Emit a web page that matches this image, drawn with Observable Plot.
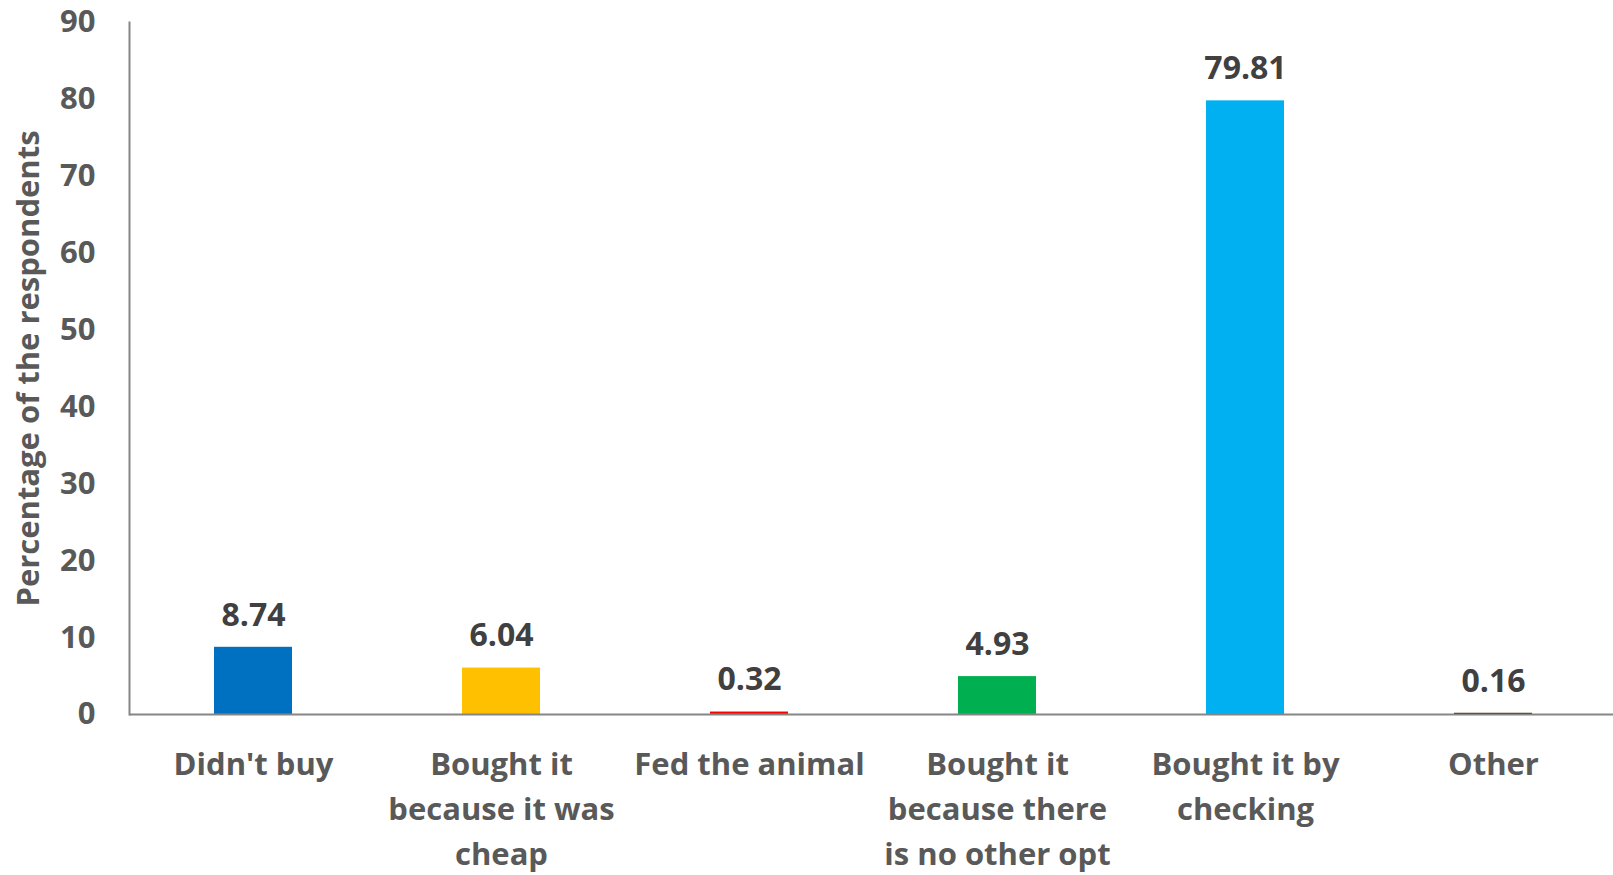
<!DOCTYPE html>
<html><head><meta charset="utf-8">
<script src="https://cdn.jsdelivr.net/npm/d3@7"></script>
<script src="https://cdn.jsdelivr.net/npm/@observablehq/plot@0.6"></script>
<style>body{margin:0;background:#fff}</style>
</head><body><div id="chart"></div>
<script>
const categories = ["Didn't buy", "Bought it because it was cheap", "Fed the animal", "Bought it because there is no other opt", "Bought it by checking", "Other"];
const tickLabels = ["Didn't buy", "Bought it\nbecause it was\ncheap", "Fed the animal", "Bought it\nbecause there\nis no other opt", "Bought it by\nchecking", "Other"];
const values = [8.74, 6.04, 0.32, 4.93, 79.81, 0.16];
const colors = ["#0070C0", "#FFC000", "#FF0000", "#00B050", "#00B0F0", "#3B2300"];
const yTicks = [0, 10, 20, 30, 40, 50, 60, 70, 80, 90];

const data = categories.map((c, i) => ({category: c, value: values[i], color: colors[i], label: values[i].toFixed(2)}));
const labelOf = new Map(categories.map((c, i) => [c, tickLabels[i]]));

const chart = Plot.plot({
  width: 1613,
  height: 875,
  marginLeft: 129,
  marginRight: -4,
  marginTop: 22,
  marginBottom: 161,
  style: {fontFamily: "'Open Sans', sans-serif", fontWeight: "bold", background: "#fff"},
  x: {domain: categories, paddingInner: 0.685, paddingOuter: 0.3425, align: 0.5},
  y: {domain: [0, 90]},
  marks: [
    Plot.barY(data, {x: "category", y: "value", fill: "color"}),
    Plot.text(data, {x: "category", y: "value", text: "label", dy: -32, fontSize: 32, fill: "#404040", fontWeight: "bold"}),
    Plot.axisY({ticks: yTicks, tickSize: 0, tickPadding: 34, fontSize: 31, color: "#595959", label: "Percentage of the respondents", labelAnchor: "center", labelOffset: 113, labelArrow: false}),
    Plot.axisX({tickSize: 0, tickPadding: 28, fontSize: 31, color: "#595959", tickFormat: d => labelOf.get(d), lineHeight: 1.46, label: null}),
    Plot.ruleY([0], {stroke: "#868686", strokeWidth: 2}),
    Plot.frame({anchor: "left", stroke: "#868686", strokeWidth: 2})
  ]
});
document.getElementById("chart").appendChild(chart);
</script></body></html>
